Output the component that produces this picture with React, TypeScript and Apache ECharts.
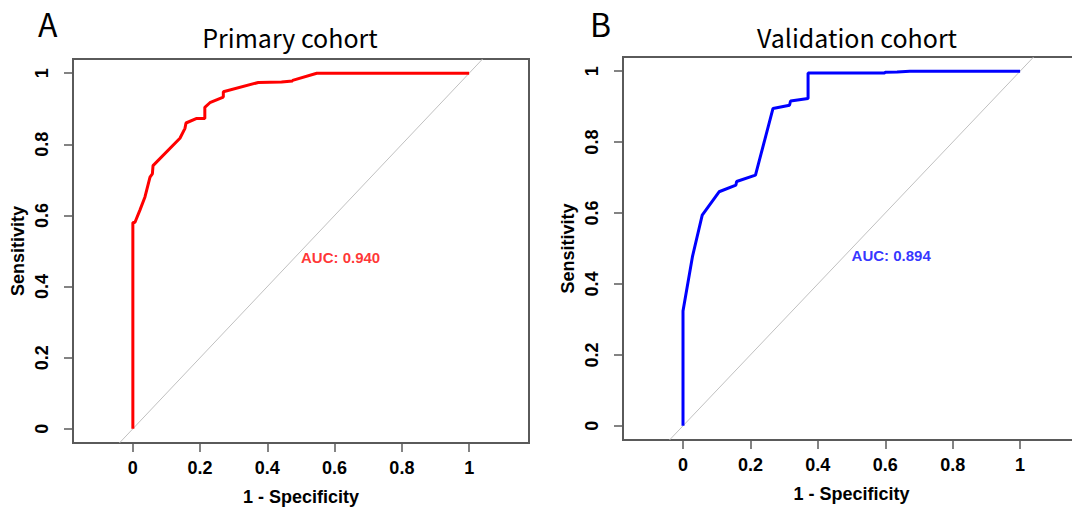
import React, { useEffect, useRef } from "react";
import * as echarts from "echarts";

// ROC curve points (1 - specificity, sensitivity)
const primaryFpr = [0, 0, 0.006, 0.021, 0.036, 0.051, 0.058, 0.06, 0.14, 0.155, 0.158, 0.19, 0.214, 0.214, 0.229, 0.269, 0.269, 0.373, 0.442, 0.475, 0.475, 0.547, 1];
const primaryTpr = [0, 0.58, 0.58, 0.615, 0.652, 0.708, 0.717, 0.74, 0.817, 0.845, 0.86, 0.873, 0.873, 0.904, 0.917, 0.933, 0.948, 0.974, 0.975, 0.978, 0.98, 1, 1];

const validationFpr = [0, 0, 0.028, 0.057, 0.107, 0.157, 0.159, 0.215, 0.267, 0.316, 0.319, 0.371, 0.371, 0.598, 0.6, 0.635, 0.673, 1];
const validationTpr = [0, 0.324, 0.477, 0.594, 0.66, 0.679, 0.689, 0.707, 0.895, 0.904, 0.916, 0.923, 0.995, 0.995, 0.997, 0.998, 1, 1];

const tickValues = [0, 0.2, 0.4, 0.6, 0.8, 1];
const panelLetters = ["A", "B"];
const panelTitles = ["Primary cohort", "Validation cohort"];
const aucLabels = ["AUC: 0.940", "AUC: 0.894"];
const curveColors = ["#ff0000", "#0000ff"];
const diagonal = [[-0.04, -0.04], [1.04, 1.04]];
const aucPosition = [0.5, 0.5];
const xMin = [-0.178, -0.178];
const xMax = [1.178, 1.237];

const AXIS_COLOR = "#5a5a5a";
const LABEL_FONT = "'Liberation Sans', Arial, sans-serif";
const TITLE_FONT = "'Noto Sans CJK SC', 'Noto Sans', sans-serif";

export default function App() {
  const ref = useRef<HTMLDivElement>(null);

  useEffect(() => {
    if (!ref.current) return;
    const chart = echarts.init(ref.current, undefined, { renderer: "svg" });

    const curves = [
      primaryFpr.map((x, i) => [x, primaryTpr[i]]),
      validationFpr.map((x, i) => [x, validationTpr[i]]),
    ];

    const grids = [
      { left: 73, top: 59, width: 456, height: 384 },
      { left: 623, top: 57, width: 477, height: 383 },
    ].map((g) => ({
      ...g,
      show: true,
      borderColor: AXIS_COLOR,
      borderWidth: 2,
      backgroundColor: "transparent",
      containLabel: false,
      outerBoundsMode: "none",
    }));

    const xAxes = [0, 1].map((i) => ({
      type: "value",
      gridIndex: i,
      position: "bottom",
      min: xMin[i],
      max: xMax[i],
      splitLine: { show: false },
      axisLine: { show: false, onZero: false },
      axisTick: { show: true, customValues: tickValues, length: 9, lineStyle: { color: AXIS_COLOR, width: 1.5 } },
      axisLabel: {
        show: true,
        customValues: tickValues,
        formatter: (v: number) => String(v),
        margin: 16,
        color: "#000",
        fontFamily: LABEL_FONT,
        fontWeight: "bold",
        fontSize: 18,
      },
      name: "1 - Specificity",
      nameLocation: "middle",
      nameGap: 45,
      nameTextStyle: { color: "#000", fontFamily: LABEL_FONT, fontWeight: "bold", fontSize: 18 },
    }));

    // name centred on the visible box part: use nameLocation middle on left panel; right panel text placed relative to 0..1 span
    const yAxes = [0, 1].map((i) => ({
      type: "value",
      gridIndex: i,
      position: "left",
      min: -0.04,
      max: 1.04,
      splitLine: { show: false },
      axisLine: { show: false, onZero: false },
      axisTick: { show: true, customValues: tickValues, length: 9, lineStyle: { color: AXIS_COLOR, width: 1.5 } },
      axisLabel: {
        show: true,
        customValues: tickValues,
        formatter: (v: number) => String(v),
        rotate: 90,
        margin: 22,
        color: "#000",
        fontFamily: LABEL_FONT,
        fontWeight: "bold",
        fontSize: 18,
      },
      name: "Sensitivity",
      nameLocation: "middle",
      nameGap: 46,
      nameTextStyle: { color: "#000", fontFamily: LABEL_FONT, fontWeight: "bold", fontSize: 18 },
    }));

    // right panel x name should be centred on the original (unextended) box, shift it
    (xAxes[1] as any).nameTextStyle = { ...(xAxes[1] as any).nameTextStyle, padding: [0, 20, 0, 0] };

    const series: any[] = [];
    [0, 1].forEach((i) => {
      series.push({
        type: "line",
        xAxisIndex: i,
        yAxisIndex: i,
        data: diagonal,
        showSymbol: false,
        symbol: "none",
        lineStyle: { color: "#c0c0c0", width: 1 },
        silent: true,
      });
      series.push({
        type: "line",
        xAxisIndex: i,
        yAxisIndex: i,
        data: curves[i],
        showSymbol: false,
        symbol: "none",
        lineStyle: { color: curveColors[i], width: 3 },
        silent: true,
      });
      series.push({
        type: "scatter",
        xAxisIndex: i,
        yAxisIndex: i,
        data: [aucPosition],
        symbolSize: 0,
        silent: true,
        label: {
          show: true,
          position: [0, -1],
          align: "left",
          verticalAlign: "top",
          formatter: aucLabels[i],
          color: curveColors[i],
          fontFamily: LABEL_FONT,
          fontWeight: "bold",
          fontSize: 15,
        },
      });
    });

    const letterX = [38, 590];
    const titleX = [290, 857];
    const graphic: any[] = [];
    [0, 1].forEach((i) => {
      graphic.push({
        type: "text",
        left: letterX[i],
        top: 7,
        style: { text: panelLetters[i], fill: "#000", font: `32px ${TITLE_FONT}` },
      });
      graphic.push({
        type: "text",
        x: titleX[i],
        y: 37,
        style: {
          text: panelTitles[i],
          fill: "#000",
          font: `25px ${TITLE_FONT}`,
          align: "center",
          verticalAlign: "middle",
        },
      });
    });

    chart.setOption({
      animation: false,
      backgroundColor: "#ffffff",
      grid: grids,
      xAxis: xAxes,
      yAxis: yAxes,
      series,
      graphic,
    });

    return () => chart.dispose();
  }, []);

  return (
    <div
      ref={ref}
      style={{ position: "absolute", left: 0, top: 0, width: 1072, height: 513, background: "#fff" }}
    />
  );
}
